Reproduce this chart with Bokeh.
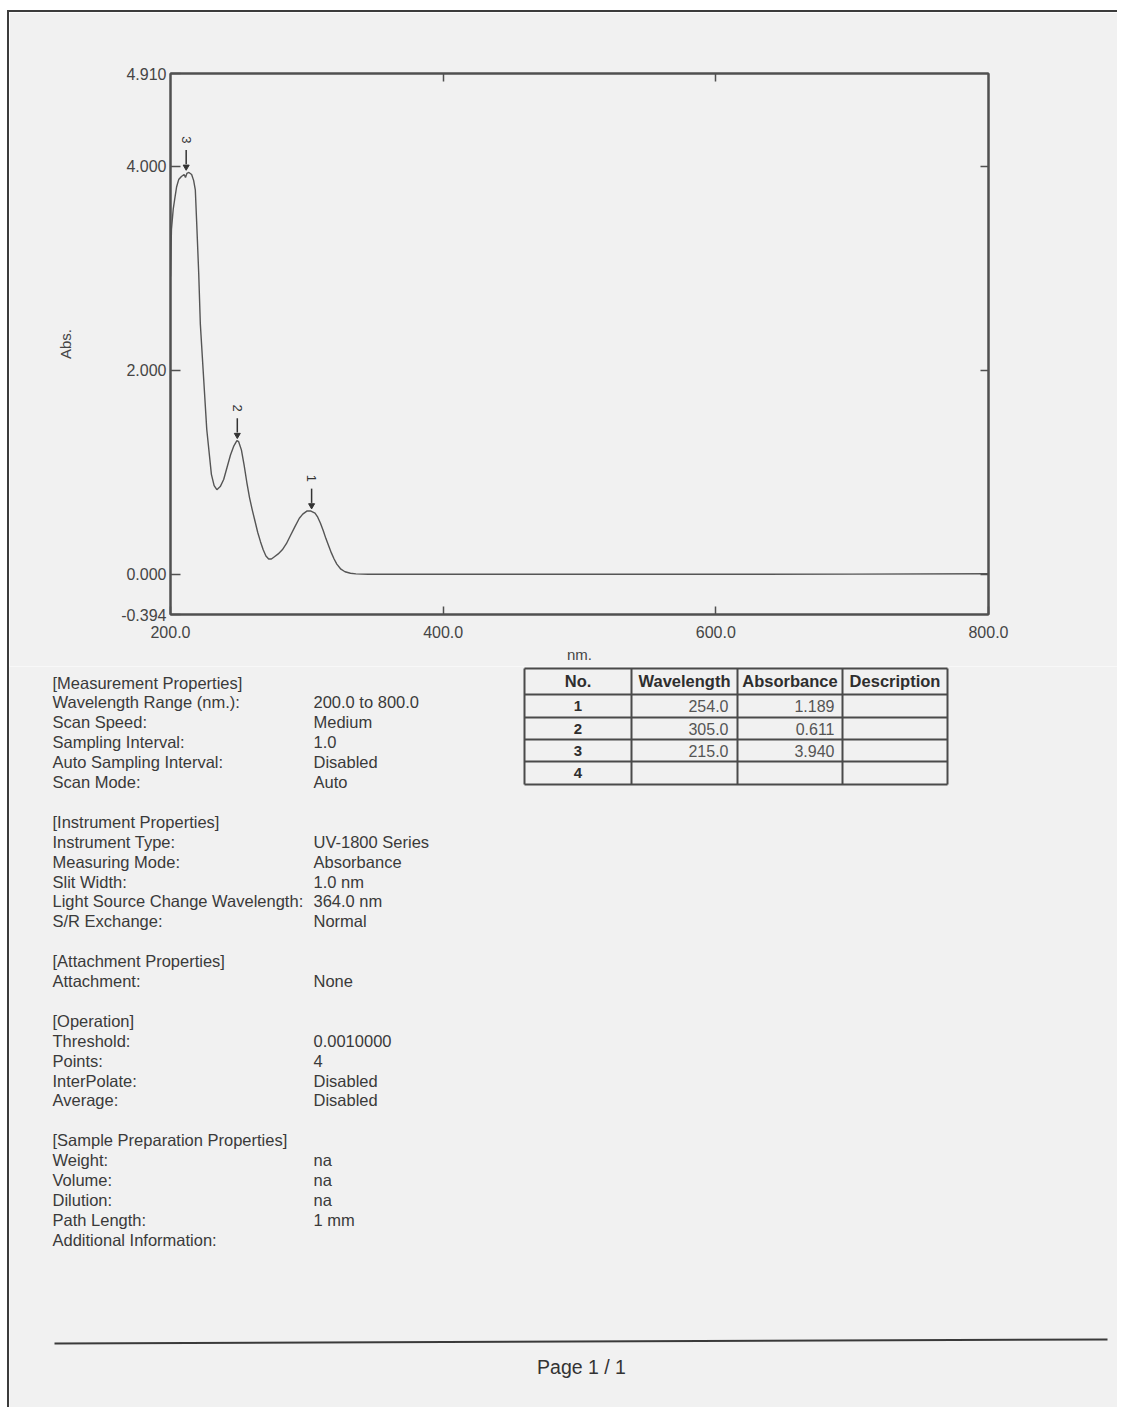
import math
from bokeh.plotting import figure
from bokeh.models import Range1d, FixedTicker, LinearAxis, NumeralTickFormatter
from bokeh.embed import file_html
from bokeh.resources import INLINE
from bokeh.core.properties import value

# ---------------- data ----------------
wavelength = [200, 200.7, 202, 203, 204.5, 206, 208, 210, 211, 212, 213.5, 215.5, 217, 218.2,
              219.2, 220.7, 221.9, 224.4, 226.6, 230, 232, 234, 236.5, 239, 241.5, 244, 246.5,
              248.7, 250, 252, 254, 256, 258, 260, 262, 264, 266, 268, 270, 272, 274, 276, 279,
              282, 285, 288, 291, 294.5, 297, 300, 303, 306, 308, 310, 312, 314, 316, 318, 320,
              322, 325, 328, 332, 336, 345, 400, 500, 600, 700, 800]
absorbance = [2.92, 3.38, 3.58, 3.67, 3.80, 3.87, 3.90, 3.92, 3.89, 3.93, 3.94, 3.92, 3.86, 3.77,
              3.45, 2.95, 2.45, 1.90, 1.42, 0.98, 0.87, 0.83, 0.86, 0.93, 1.05, 1.17, 1.26,
              1.31, 1.30, 1.22, 1.07, 0.90, 0.75, 0.63, 0.52, 0.41, 0.32, 0.24, 0.18, 0.15, 0.15,
              0.17, 0.20, 0.24, 0.30, 0.38, 0.46, 0.55, 0.59, 0.62, 0.62, 0.60, 0.56, 0.50, 0.43,
              0.35, 0.28, 0.21, 0.15, 0.10, 0.05, 0.025, 0.01, 0.004, 0.0, 0.0, 0.0, 0.0, 0.002,
              0.005]

peak_labels = ["1", "2", "3"]
peak_nm = [303.5, 249.0, 211.5]
peak_abs = [0.62, 1.31, 3.94]

x_ticks = [200, 400, 600, 800]
y_ticks = [-0.394, 0.0, 2.0, 4.0, 4.91]
right_ticks = [0.0, 2.0, 4.0]
top_ticks = [400, 600]

table_header = ["No.", "Wavelength", "Absorbance", "Description"]
table_no = ["1", "2", "3", "4"]
table_wavelength = ["254.0", "305.0", "215.0", ""]
table_absorbance = ["1.189", "0.611", "3.940", ""]

sections = [
    ("[Measurement Properties]", [
        ("Wavelength Range (nm.):", "200.0 to 800.0"),
        ("Scan Speed:", "Medium"),
        ("Sampling Interval:", "1.0"),
        ("Auto Sampling Interval:", "Disabled"),
        ("Scan Mode:", "Auto"),
    ]),
    ("[Instrument Properties]", [
        ("Instrument Type:", "UV-1800 Series"),
        ("Measuring Mode:", "Absorbance"),
        ("Slit Width:", "1.0 nm"),
        ("Light Source Change Wavelength:", "364.0 nm"),
        ("S/R Exchange:", "Normal"),
    ]),
    ("[Attachment Properties]", [
        ("Attachment:", "None"),
    ]),
    ("[Operation]", [
        ("Threshold:", "0.0010000"),
        ("Points:", "4"),
        ("InterPolate:", "Disabled"),
        ("Average:", "Disabled"),
    ]),
    ("[Sample Preparation Properties]", [
        ("Weight:", "na"),
        ("Volume:", "na"),
        ("Dilution:", "na"),
        ("Path Length:", "1 mm"),
        ("Additional Information:", ""),
    ]),
]
footer_text = "Page 1 / 1"

# ---------------- style / layout ----------------
BG = "#f1f1f1"
INK = "#3a3a3a"
AX = "#505050"
FONT = "Liberation Sans"
PX0, PY0 = 10, 12          # page origin of the content (inside the page border)
W = 1110
TOP_H = 656
BOT_H = 741
SPLIT = PY0 + TOP_H        # page y where lower block starts
EDGE = "2px solid #3c3c3c"

# ---------------- chart ----------------
p = figure(width=W, height=TOP_H, x_range=Range1d(200, 800), y_range=Range1d(-0.394, 4.91),
           output_backend="svg", toolbar_location=None,
           min_border_left=171 - PX0, min_border_right=W - (989 - PX0),
           min_border_top=73 - PY0, min_border_bottom=TOP_H - (614 - PY0),
           background_fill_color=BG, border_fill_color=BG)
p.styles = {"margin-top": "10px", "margin-left": "7px", "border-top": EDGE, "border-left": EDGE}
p.grid.visible = False
p.outline_line_color = AX
p.outline_line_width = 2

p.xaxis.ticker = FixedTicker(ticks=x_ticks)
p.xaxis.formatter = NumeralTickFormatter(format="0.0")
p.xaxis.axis_label = "nm."
p.xaxis.major_label_standoff = 11
p.xaxis.axis_label_standoff = 5

p.yaxis.ticker = FixedTicker(ticks=y_ticks)
p.yaxis.formatter = NumeralTickFormatter(format="0.000")
p.yaxis.axis_label = "Abs."
p.yaxis.major_label_standoff = 4
p.yaxis.axis_label_standoff = 44

for ax in [p.xaxis[0], p.yaxis[0]]:
    ax.major_tick_in = 8
    ax.major_tick_out = 0
    ax.minor_tick_line_color = None
    ax.axis_line_color = AX
    ax.axis_line_width = 2
    ax.major_tick_line_color = AX
    ax.major_tick_line_width = 1.5
    ax.major_label_text_font = FONT
    ax.major_label_text_font_size = "16px"
    ax.major_label_text_color = "#454545"
    ax.axis_label_text_font = FONT
    ax.axis_label_text_font_size = "15px"
    ax.axis_label_text_font_style = "normal"
    ax.axis_label_text_color = "#454545"
p.yaxis[0].major_tick_in = 10

for ticks, loc in [(top_ticks, "above"), (right_ticks, "right")]:
    a = LinearAxis(ticker=FixedTicker(ticks=ticks), major_tick_in=8, major_tick_out=0,
                   minor_tick_line_color=None, axis_line_color=AX, axis_line_width=2,
                   major_tick_line_color=AX, major_tick_line_width=1.5,
                   major_label_text_color=None)
    p.add_layout(a, loc)

p.line(wavelength, absorbance, line_color="#555555", line_width=1.4)

# peak markers
p.segment(x0=peak_nm, y0=[v + 0.08 for v in peak_abs], x1=peak_nm, y1=[v + 0.22 for v in peak_abs],
          line_color="#333333", line_width=1.5)
p.scatter(peak_nm, [v + 0.055 for v in peak_abs], marker="inverted_triangle", size=6,
          fill_color="#333333", line_color="#333333")
p.text(peak_nm, [v + 0.32 for v in peak_abs], text=peak_labels, angle=-math.pi / 2,
       text_align="center", text_baseline="middle", text_font=value(FONT),
       text_font_size="13px", text_color="#333333")

# ---------------- lower page block (coordinates in page pixels) ----------------
b = figure(width=W, height=BOT_H, x_range=Range1d(PX0, PX0 + W), y_range=Range1d(SPLIT + BOT_H, SPLIT),
           output_backend="svg", toolbar_location=None, x_axis_location=None, y_axis_location=None,
           min_border=0, background_fill_color=BG, border_fill_color=BG)
b.styles = {"margin-left": "7px", "border-left": EDGE}
b.grid.visible = False
b.outline_line_color = None

LINE = 19.9
Y0 = 684
X_LABEL = 53
X_VALUE = 314
lab_x, lab_y, lab_t = [], [], []
val_x, val_y, val_t = [], [], []
idx = 0
for title, items in sections:
    lab_x.append(X_LABEL); lab_y.append(Y0 + idx * LINE); lab_t.append(title)
    idx += 1
    for k, v in items:
        lab_x.append(X_LABEL); lab_y.append(Y0 + idx * LINE); lab_t.append(k)
        if v:
            val_x.append(X_VALUE); val_y.append(Y0 + idx * LINE); val_t.append(v)
        idx += 1
    idx += 1
b.text(lab_x, lab_y, text=lab_t, text_baseline="middle", text_align="left",
       text_font=value(FONT), text_font_size="16.5px", text_color=INK)
b.text(val_x, val_y, text=val_t, text_baseline="middle", text_align="left",
       text_font=value(FONT), text_font_size="16.5px", text_color=INK)

# table
col_edges = [525, 632, 738, 843, 948]
row_edges = [670, 696, 719, 741, 763, 786]
b.segment(x0=[col_edges[0]] * len(row_edges), y0=row_edges, x1=[col_edges[-1]] * len(row_edges),
          y1=row_edges, line_color="#4a4a4a", line_width=2)
b.segment(x0=col_edges, y0=[row_edges[0]] * len(col_edges), x1=col_edges,
          y1=[row_edges[-1]] * len(col_edges), line_color="#4a4a4a", line_width=2)
col_c = [(col_edges[i] + col_edges[i + 1]) / 2 for i in range(4)]
b.text(col_c, [(row_edges[0] + row_edges[1]) / 2 - 1] * 4, text=table_header,
       text_align="center", text_baseline="middle", text_font=value(FONT),
       text_font_size="16.5px", text_font_style="bold", text_color="#2e2e2e")
row_c = [(row_edges[i] + row_edges[i + 1]) / 2 for i in range(1, 5)]
b.text([col_c[0]] * 4, row_c, text=table_no, text_align="center", text_baseline="middle",
       text_font=value(FONT), text_font_size="15px", text_font_style="bold", text_color="#2e2e2e")
wl_rows = [(r, t) for r, t in zip(row_c, table_wavelength) if t]
ab_rows = [(r, t) for r, t in zip(row_c, table_absorbance) if t]
b.text([col_edges[2] - 9] * len(wl_rows), [r for r, _ in wl_rows], text=[t for _, t in wl_rows],
       text_align="right", text_baseline="middle", text_font=value(FONT),
       text_font_size="16px", text_color="#555555")
b.text([col_edges[3] - 8] * len(ab_rows), [r for r, _ in ab_rows], text=[t for _, t in ab_rows],
       text_align="right", text_baseline="middle", text_font=value(FONT),
       text_font_size="16px", text_color="#555555")

# footer
b.segment(x0=[55], y0=[1345], x1=[1108], y1=[1341], line_color="#3a3a3a", line_width=2)
b.text([582], [1368], text=[footer_text], text_align="center", text_baseline="middle",
       text_font=value(FONT), text_font_size="19.5px", text_color="#333333")

open("out.html", "w").write(file_html([p, b], INLINE))
